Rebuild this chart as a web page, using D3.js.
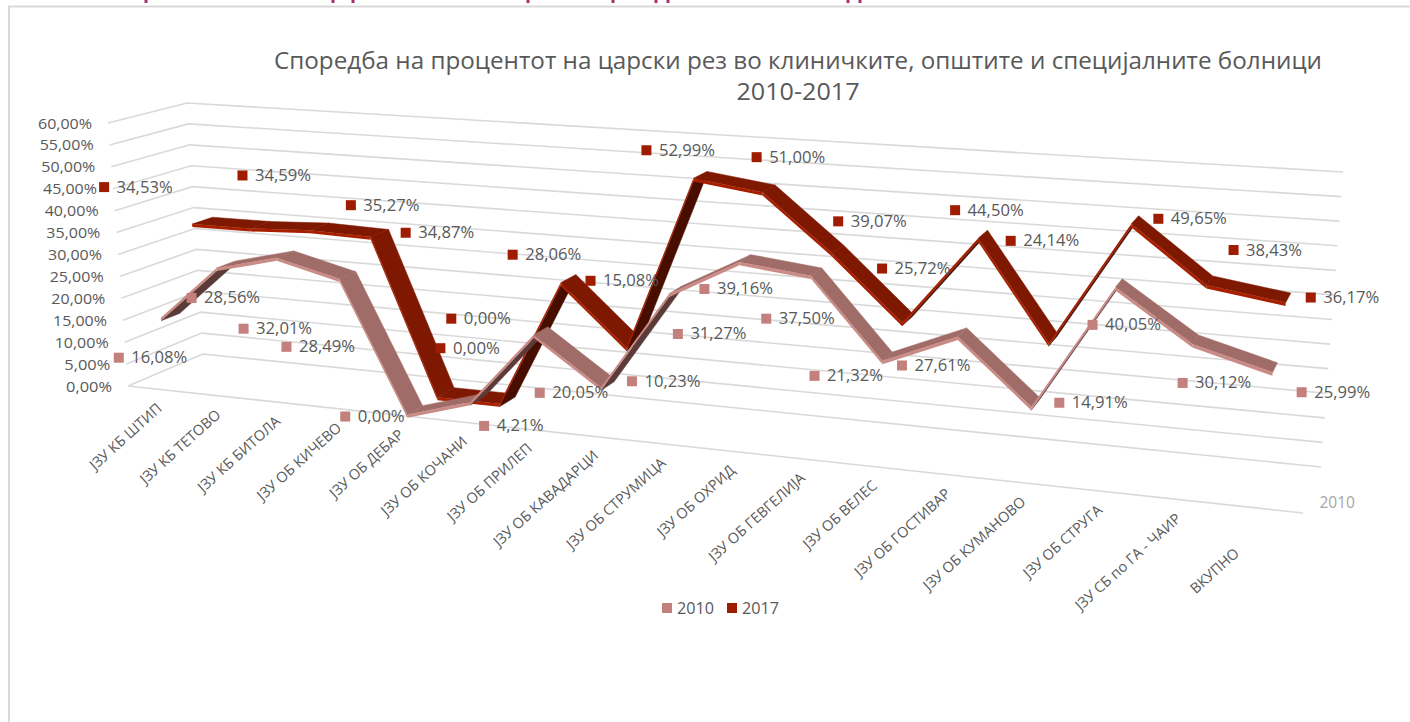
<!DOCTYPE html>
<html><head><meta charset="utf-8">
<script src="https://cdnjs.cloudflare.com/ajax/libs/d3/7.8.5/d3.min.js"></script>
<style>html,body{margin:0;padding:0;background:#fff;overflow:hidden}svg{display:block}text{font-family:"Open Sans","Noto Sans",sans-serif}</style>
</head><body><svg id="c" width="1410" height="722"></svg>
<script>
const categories = ["ЈЗУ КБ ШТИП","ЈЗУ КБ ТЕТОВО","ЈЗУ КБ БИТОЛА","ЈЗУ ОБ КИЧЕВО","ЈЗУ ОБ ДЕБАР","ЈЗУ ОБ КОЧАНИ","ЈЗУ ОБ ПРИЛЕП","ЈЗУ ОБ КАВАДАРЦИ","ЈЗУ ОБ СТРУМИЦА","ЈЗУ ОБ ОХРИД","ЈЗУ ОБ ГЕВГЕЛИЈА","ЈЗУ ОБ ВЕЛЕС","ЈЗУ ОБ ГОСТИВАР","ЈЗУ ОБ КУМАНОВО","ЈЗУ ОБ СТРУГА","ЈЗУ СБ по ГА - ЧАИР","ВКУПНО"];
const values2010 = [16.08,28.56,32.01,28.49,0,4.21,20.05,10.23,31.27,39.16,37.50,21.32,27.61,14.91,40.05,30.12,25.99];
const values2017 = [34.53,34.59,35.27,34.87,0,0,28.06,15.08,52.99,51.00,39.07,25.72,44.50,24.14,49.65,38.43,36.17];
const yTicks = [0,5,10,15,20,25,30,35,40,45,50,55,60];
const titleLines = ["Споредба на процентот на царски рез во клиничките, општите и специјалните болници","2010-2017"];

// label placement relative to each projected point (Excel's 3D label scatter)
const labelNudge2010 = [[-42,40],[-25,30],[-33,71],[-53,68],[-62,2],[14,24],[6,58],[31,-6],[9,40],[-35,27],[-45,43],[-68,15],[-56,29],[28,-4],[-23,38],[-10,39],[29,20]];
const labelNudge2017 = [[-88,-37],[-8,-53],[41,-25],[35,-4],[3,-49],[-48,-85],[-48,-28],[-36,-67],[-47,-28],[-6,-35],[6,-32],[-20,-54],[-23,-28],[-38,-102],[27,-5],[27,-35],[25,-5]];

const corners = {flb:[128,386],flt:[108,123],blb:[203,354],blt:[187,103],frb:[1303,513],frt:[1327,200],brb:[1321,467],brt:[1343,172]};
const persp = 1.195;
const svg = d3.select("#c");
const GRID="#d9d9d9", TXT="#595959";

const xBand = d3.scaleBand().domain(categories).range([.006,1]);
const xCenter = c => xBand(c)+xBand.bandwidth()/2;
const yUnit = d3.scaleLinear().domain([0,60]).range([0,1]);
const warp = u => u/(persp-(persp-1)*u);
const mix = (a,b,t)=>[a[0]+(b[0]-a[0])*t,a[1]+(b[1]-a[1])*t];
function project(u,val,w){
  const s=warp(u), v=yUnit(val), C=corners;
  const fl=mix(C.flb,C.flt,v), bl=mix(C.blb,C.blt,v), fr=mix(C.frb,C.frt,v), br=mix(C.brb,C.brt,v);
  return mix(mix(fl,fr,s),mix(bl,br,s),w);
}
const poly = d3.line().curve(d3.curveLinearClosed);
const pct = v => d3.format(".2f")(v).replace(".",",")+"%";

// frame and cropped heading remnants
svg.append("path").attr("d","M9,723V6.5H1410").attr("fill","none").attr("stroke",GRID).attr("stroke-width",2);
svg.append("g").selectAll("rect").data([146,333,353,528,613,656,668,848,860]).join("rect")
  .attr("x",d=>d-1.5).attr("y",0).attr("width",3).attr("height",3).attr("fill","#a8306e");

// title
svg.append("g").selectAll("text").data(titleLines).join("text")
  .attr("x",798).attr("y",(d,i)=>69+i*31).attr("text-anchor","middle").attr("fill",TXT)
  .attr("font-size",23).attr("textLength",(d,i)=>i==0?1048:123).attr("lengthAdjust","spacingAndGlyphs")
  .text(d=>d);

// gridlines
const grid=svg.append("g").attr("fill","none").attr("stroke",GRID).attr("stroke-width",1.6);
grid.selectAll("path").data(yTicks).join("path")
  .attr("d",t=>d3.line()([project(0,t,0),project(0,t,1),project(1,t,1)]));
grid.append("path").attr("d",d3.line()([project(0,0,0),project(1,0,0)]));

// y axis labels
svg.append("g").selectAll("text").data(yTicks).join("text")
  .attr("x",t=>project(0,t,0)[0]-16).attr("y",t=>project(0,t,0)[1]+5.5)
  .attr("text-anchor","end").attr("fill",TXT).attr("font-size",15).text(pct)
  .attr("textLength",t=>t<10?46:54).attr("lengthAdjust","spacingAndGlyphs");

// category labels
svg.append("g").selectAll("text").data(categories).join("text")
  .attr("transform",(c,i)=>{const p=project(xCenter(c),0,0),last=i==categories.length-1;
     return `translate(${p[0]+(last?-22:0)},${p[1]+(last?46:20)}) rotate(-42)`;})
  .attr("text-anchor","end").attr("fill",TXT).attr("font-size",14.5).text(c=>c);

// series ribbons
const series=[
 {name:"2017",vals:values2017,w0:.53,w1:.8,top:"#7f1800",front:"#a81f00",under:"#470e00",mark:"#9e1c00",nudge:labelNudge2017},
 {name:"2010",vals:values2010,w0:.04,w1:.29,top:"#a06c67",front:"#ca8a85",under:"#5a3b38",mark:"#c4807c",nudge:labelNudge2010}
];
const THICK=.7;
series.forEach(S=>{
  const g=svg.append("g");
  const segs=d3.range(categories.length-1).map(i=>{
    const u0=xCenter(categories[i]),u1=xCenter(categories[i+1]),a=S.vals[i],b=S.vals[i+1];
    const f0=project(u0,a,S.w0),f1=project(u1,b,S.w0),b0=project(u0,a,S.w1);
    const dir=[f1[0]-f0[0],f1[1]-f0[1]],dep=[b0[0]-f0[0],b0[1]-f0[1]];
    const underside=dir[0]*dep[1]-dir[1]*dep[0]>0;
    const la=underside?a-THICK:a, lb=underside?b-THICK:b;
    return {
      face:[project(u0,la,S.w0),project(u1,lb,S.w0),project(u1,lb,S.w1),project(u0,la,S.w1)],
      band:[f0,f1,project(u1,b-THICK,S.w0),project(u0,a-THICK,S.w0)],underside};
  });
  const sg=g.selectAll("g").data(segs).join("g");
  sg.append("path").attr("d",d=>poly(d.face)).attr("fill",d=>d.underside?S.under:S.top).attr("stroke",d=>d.underside?S.under:S.top).attr("stroke-width",.5);
  sg.append("path").attr("d",d=>poly(d.band)).attr("fill",S.front);
});

// data labels
series.forEach(S=>{
  const g=svg.append("g").selectAll("g").data(S.vals).join("g")
    .attr("transform",(v,i)=>{const p=project(xCenter(categories[i]),v,S.w0);return `translate(${p[0]+S.nudge[i][0]},${p[1]+S.nudge[i][1]})`;});
  g.append("rect").attr("x",-5).attr("y",-5).attr("width",10).attr("height",10).attr("fill",S.mark);
  g.append("text").attr("x",12.5).attr("y",5.5).attr("fill",TXT).attr("font-size",15.5)
    .attr("textLength",v=>v<10?47:56).attr("lengthAdjust","spacingAndGlyphs").text(pct);
});

// series axis label
const sl=project(1,0,.25);
svg.append("text").attr("x",sl[0]+12).attr("y",sl[1]+6).attr("fill","#a6a6a6").attr("font-size",15.5).text("2010");

// legend
const leg=svg.append("g").selectAll("g").data(series.slice().reverse()).join("g")
  .attr("transform",(d,i)=>`translate(${667+i*65},608)`);
leg.append("rect").attr("x",-5).attr("y",-5).attr("width",10).attr("height",10).attr("fill",d=>d.mark);
leg.append("text").attr("x",10).attr("y",5.5).attr("fill",TXT).attr("font-size",15.5).attr("textLength",37).attr("lengthAdjust","spacingAndGlyphs").text(d=>d.name);
</script></body></html>
